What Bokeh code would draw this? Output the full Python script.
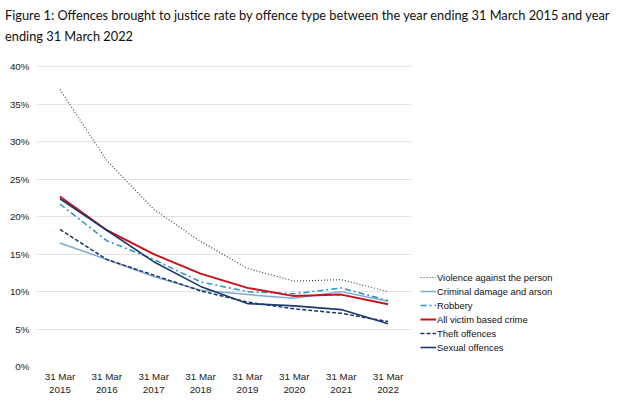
from bokeh.plotting import figure
from bokeh.models import (Legend, LegendItem, FixedTicker, PrintfTickFormatter, Range1d, Div)
from bokeh.layouts import column
from bokeh.embed import file_html
from bokeh.resources import INLINE

title_text = ("Figure 1: Offences brought to justice rate by offence type between the year ending 31 March 2015 and year<br>"
              "ending 31 March 2022")

years = ["31 Mar\n2015", "31 Mar\n2016", "31 Mar\n2017", "31 Mar\n2018",
         "31 Mar\n2019", "31 Mar\n2020", "31 Mar\n2021", "31 Mar\n2022"]

violence = [37.0, 27.5, 21.0, 16.7, 13.1, 11.4, 11.6, 10.0]
criminal = [16.5, 14.3, 12.0, 10.2, 9.6, 9.1, 10.0, 8.7]
robbery = [21.7, 16.8, 14.3, 11.3, 10.0, 9.7, 10.5, 8.8]
all_victim = [22.7, 18.2, 15.0, 12.4, 10.5, 9.4, 9.6, 8.3]
theft = [18.3, 14.3, 12.2, 10.1, 8.6, 7.7, 7.1, 6.0]
sexual = [22.4, 18.2, 14.0, 10.7, 8.4, 8.1, 7.6, 5.7]

y_ticks = [0, 5, 10, 15, 20, 25, 30, 35, 40]

title = Div(text=title_text, width=618, height=42,
            styles={"font-family": "Lato", "font-size": "12.8px", "line-height": "21px",
                    "color": "#111111"})

p = figure(x_range=years, frame_width=375, frame_height=301, output_backend="svg",
           toolbar_location=None, min_border_left=36, min_border_right=0,
           min_border_top=13, min_border_bottom=20)
p.y_range = Range1d(0, 40.2)

series = [
    ("Violence against the person", violence, "#3a4660", 1.2, "1 2"),
    ("Criminal damage and arson", criminal, "#7aaad4", 1.5, "solid"),
    ("Robbery", robbery, "#2b93c8", 1.5, "6 3 2 3"),
    ("All victim based crime", all_victim, "#cc1018", 2.0, "solid"),
    ("Theft offences", theft, "#1c3764", 1.5, "4 2"),
    ("Sexual offences", sexual, "#1b3a6e", 1.6, "solid"),
]

items = []
for name, vals, color, w, dash in series:
    r = p.line(years, vals, line_color=color, line_width=w, line_dash=dash)
    items.append(LegendItem(label=name, renderers=[r]))

legend = Legend(items=items, location=(9, 13), orientation="vertical",
                label_text_font="Liberation Sans", label_text_font_size="9.4px",
                label_text_color="#111111", glyph_width=16, glyph_height=12,
                label_standoff=1, spacing=2, padding=4, margin=0,
                border_line_color=None, background_fill_alpha=0)
p.add_layout(legend, "right")

p.yaxis.ticker = FixedTicker(ticks=y_ticks)
p.yaxis.formatter = PrintfTickFormatter(format="%d%%")
for ax in (p.xaxis, p.yaxis):
    ax.axis_line_color = None
    ax.major_tick_line_color = None
    ax.minor_tick_line_color = None
    ax.major_tick_out = 0
    ax.minor_tick_out = 0
    ax.major_label_text_font = "Liberation Sans"
    ax.major_label_text_font_size = "9.8px"
    ax.major_label_text_color = "#222222"
p.yaxis.major_label_standoff = 7
p.xaxis.major_label_standoff = 4

p.xgrid.grid_line_color = None
p.ygrid.grid_line_color = "#e4e4e4"
p.ygrid.grid_line_width = 1
p.outline_line_color = None
p.background_fill_color = "white"

layout = column(title, p, spacing=0)
open("out.html", "w").write(file_html(layout, INLINE))
